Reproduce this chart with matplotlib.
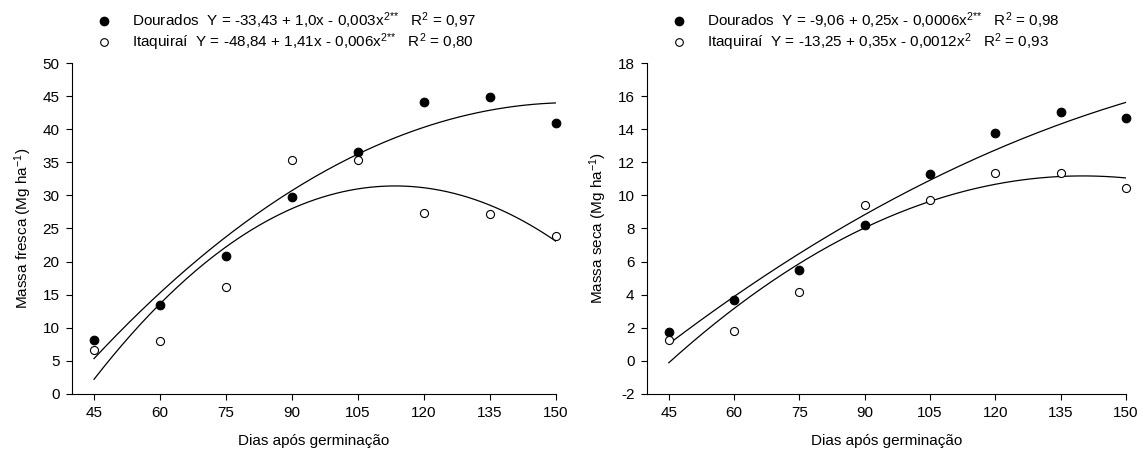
import numpy as np
import matplotlib
matplotlib.use("Agg")
import matplotlib.pyplot as plt
from matplotlib.lines import Line2D

plt.rcParams['font.family'] = ['Liberation Sans', 'DejaVu Sans']
plt.rcParams['mathtext.fontset'] = 'custom'
plt.rcParams['mathtext.rm'] = 'Liberation Sans'
plt.rcParams['mathtext.it'] = 'Liberation Sans'
plt.rcParams['mathtext.default'] = 'rm'
plt.rcParams['axes.unicode_minus'] = False

# Days after germination
dias = [45, 60, 75, 90, 105, 120, 135, 150]

# Fresh mass (Mg/ha)
fresca_dourados = [8.1, 13.5, 20.8, 29.7, 36.5, 44.1, 44.8, 41.0]
fresca_itaquirai = [6.6, 8.0, 16.1, 35.4, 35.3, 27.4, 27.2, 23.8]

# Dry mass (Mg/ha)
seca_dourados = [1.75, 3.65, 5.5, 8.2, 11.3, 13.75, 15.05, 14.65]
seca_itaquirai = [1.25, 1.8, 4.15, 9.45, 9.7, 11.35, 11.35, 10.45]

leg_fresca = [r"Dourados  Y = -33,43 + 1,0x - 0,003x$^{2{*}{*}}$   R$^{2}$ = 0,97",
              r"Itaquiraí  Y = -48,84 + 1,41x - 0,006x$^{2{*}{*}}$   R$^{2}$ = 0,80"]
leg_seca = [r"Dourados  Y = -9,06 + 0,25x - 0,0006x$^{2{*}{*}}$   R$^{2}$ = 0,98",
            r"Itaquiraí  Y = -13,25 + 0,35x - 0,0012x$^{2}$   R$^{2}$ = 0,93"]

fs = 11


def painel(ax, y1, y2, ylim, yticks, ylabel, legenda):
    x = np.array(dias, dtype=float)
    xx = np.linspace(45, 150, 200)
    for y, fc in [(y1, 'black'), (y2, 'white')]:
        c = np.polyfit(x, y, 2)
        ax.plot(xx, np.polyval(c, xx), color='black', lw=0.9, zorder=2)
        ax.plot(x, y, 'o', ms=6.2 if fc == 'black' else 5.8, mfc=fc, mec='black',
                mew=0.8, ls='none', zorder=3, clip_on=False)
    ax.set_xlim(40, 150)
    ax.set_ylim(*ylim)
    ax.set_xticks(dias)
    ax.set_yticks(yticks)
    ax.spines['top'].set_visible(False)
    ax.spines['right'].set_visible(False)
    ax.tick_params(direction='out', length=4, width=0.8, labelsize=fs, pad=5)
    ax.set_xlabel('Dias após germinação', fontsize=fs, labelpad=10)
    ax.set_ylabel(ylabel, fontsize=fs, labelpad=6)
    handles = [Line2D([], [], marker='o', ls='none', mfc='black', mec='black', ms=6),
               Line2D([], [], marker='o', ls='none', mfc='white', mec='black', ms=5.5, mew=0.8)]
    ax.legend(handles, legenda, loc='lower left', bbox_to_anchor=(0.035, 1.012),
              frameon=False, fontsize=fs, handletextpad=1.2, labelspacing=0.02,
              borderaxespad=0, handlelength=1.2)


fig = plt.figure(figsize=(11.45, 4.54), dpi=100)
ax1 = fig.add_axes([0.0629, 0.1322, 0.4227, 0.729])
ax2 = fig.add_axes([0.5651, 0.1322, 0.4183, 0.729])

painel(ax1, fresca_dourados, fresca_itaquirai, (0, 50), range(0, 51, 5),
       'Massa fresca (Mg ha$^{-1}$)', leg_fresca)
painel(ax2, seca_dourados, seca_itaquirai, (-2, 18), range(-2, 19, 2),
       'Massa seca (Mg ha$^{-1}$)', leg_seca)

fig.savefig('out.png', dpi=100)
